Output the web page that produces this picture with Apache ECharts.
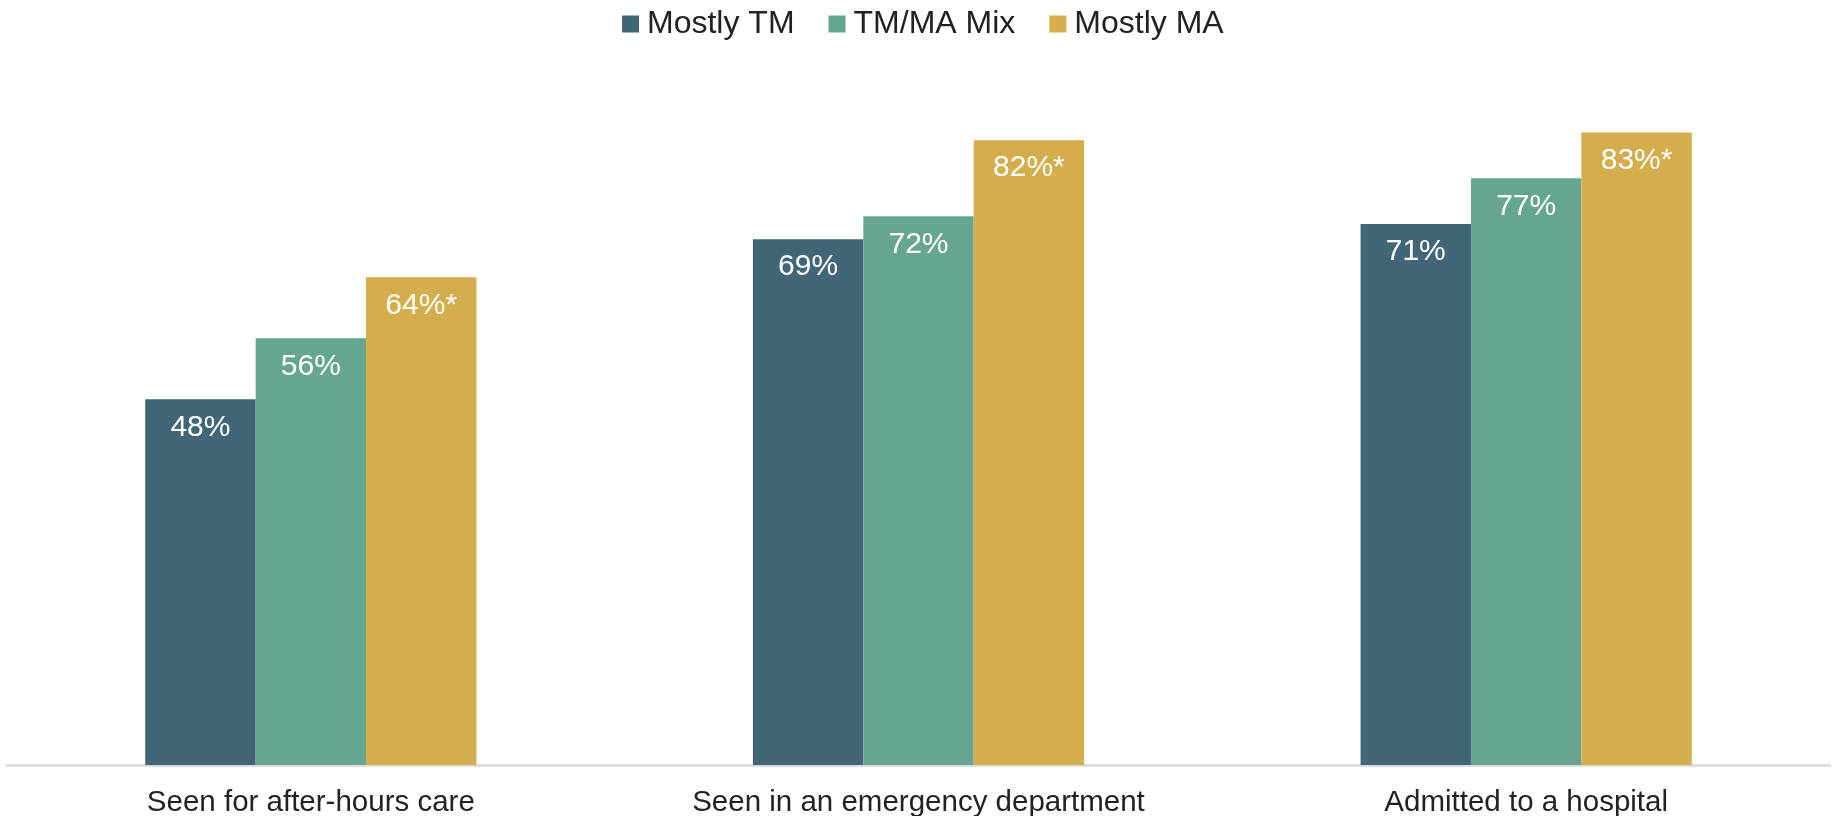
<!DOCTYPE html>
<html>
<head>
<meta charset="utf-8">
<script src="https://cdn.jsdelivr.net/npm/echarts@6/dist/echarts.min.js"></script>
<style>
html,body{margin:0;padding:0;background:#fff;}
#chart{width:1835px;height:816px;}
</style>
</head>
<body>
<div id="chart"></div>
<script>
const categories = ['Seen for after-hours care', 'Seen in an emergency department', 'Admitted to a hospital'];
const seriesNames = ['Mostly TM', 'TM/MA Mix', 'Mostly MA'];
const mostlyTM = [48, 69, 71];
const tmMaMix = [56, 72, 77];
const mostlyMA = [64, 82, 83];
const mostlyMAMarks = ['*', '*', '*'];
const colors = ['#416677', '#66a690', '#d4ad4c'];

const font = '"Liberation Sans", Arial, sans-serif';
const chart = echarts.init(document.getElementById('chart'));

function mkSeries(name, data, color, marks) {
  return {
    name: name,
    type: 'bar',
    data: data,
    barGap: '0%',
    barCategoryGap: '45.5%',
    itemStyle: { color: color },
    label: {
      show: true,
      position: 'insideTop',
      distance: 13,
      color: '#ffffff',
      fontFamily: font,
      fontSize: 30,
      formatter: p => p.value + '%' + (marks ? marks[p.dataIndex] : '')
    }
  };
}

chart.setOption({
  animation: false,
  color: colors,
  legend: {
    top: 3,
    left: 617,
    itemWidth: 17,
    itemHeight: 17,
    itemGap: 34,
    icon: 'rect',
    textStyle: { fontFamily: font, fontSize: 32, color: '#222222', padding: [0, 0, 0, 3] },
    data: seriesNames
  },
  grid: { left: 7, right: 5, top: 3, bottom: 51, containLabel: false, outerBoundsMode: 'none' },
  xAxis: {
    type: 'category',
    data: categories,
    axisLine: { lineStyle: { color: '#d9d9d9', width: 2.5 } },
    axisTick: { show: false },
    axisLabel: { fontFamily: font, fontSize: 29.5, color: '#222222', margin: 23 }
  },
  yAxis: {
    type: 'value',
    min: 0,
    max: 100,
    show: false,
    splitLine: { show: false }
  },
  series: [
    mkSeries(seriesNames[0], mostlyTM, colors[0]),
    mkSeries(seriesNames[1], tmMaMix, colors[1]),
    mkSeries(seriesNames[2], mostlyMA, colors[2], mostlyMAMarks)
  ]
});
</script>
</body>
</html>
